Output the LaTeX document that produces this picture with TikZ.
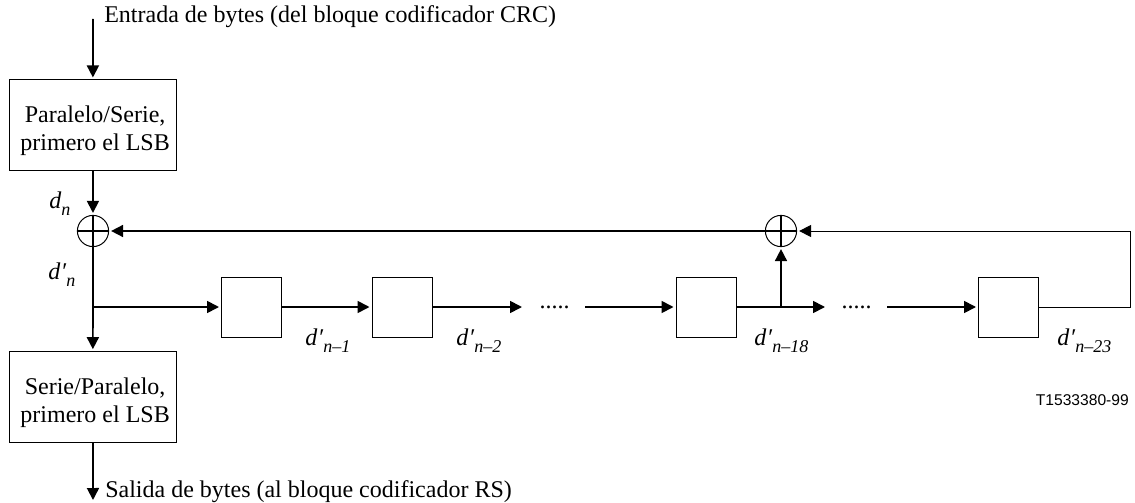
\documentclass[tikz,border=0pt]{standalone}
\usepackage{fontspec}
\setmainfont{Liberation Serif}
\setsansfont{Liberation Sans}
\usetikzlibrary{arrows.meta}
\newcommand{\subtext}[1]{\raisebox{-5.5pt}{\fontsize{13.5}{15}\selectfont\textit{#1}}}
\newcommand{\dname}[1]{\textit{d\kern.5pt′}\subtext{#1}}
\newcommand{\blocktext}[2]{\rule{0pt}{20.5pt}\hspace*{3.5pt}#1\\[1pt]\hspace*{3.5pt}#2}
\tikzset{
  thin line/.style={line width=.75pt},
  thick line/.style={line width=1.3pt},
  flow/.style={thick line,-{Triangle[length=9pt,width=9pt]},shorten >=1.5pt},
  thin flow/.style={thin line,-{Triangle[length=9pt,width=9pt]},shorten >=1.5pt},
  block/.style={draw,thin line,align=center,minimum width=125.5pt,minimum height=68pt,inner sep=0pt,font=\fontsize{18}{20}\selectfont},
  delay/.style={draw,thin line,minimum width=45pt,minimum height=45pt,inner sep=0pt},
  adder/.style={draw,circle,thin line,minimum size=23.4pt,inner sep=0pt,path picture={
    \draw[thick line] (path picture bounding box.north) -- (path picture bounding box.south)
    (path picture bounding box.west) -- (path picture bounding box.east);}},
  txt/.style={inner sep=0pt,anchor=base west,font=\fontsize{18}{20}\selectfont}
}
\begin{document}
\begin{tikzpicture}[x=.75pt,y=-.75pt]
\useasboundingbox (0,0) rectangle (1135,503);
% blocks
\node[block] (ps) at (92.8,125.3) {\blocktext{Paralelo/Serie,}{primero el LSB}};
\node[block] (sp) at (92.8,397) {\blocktext{Serie/Paralelo,}{primero el LSB}};
\node[adder] (sum1) at (93,231) {};
\node[adder] (sum2) at (781,231) {};
\node[delay] (r1) at (251.5,307) {};
\node[delay] (r2) at (402,307) {};
\node[delay] (r3) at (706,307) {};
\node[delay] (r4) at (1008.5,307) {};
% free ends
\coordinate (in) at (93,19);
\coordinate (out) at (93,502);
\coordinate (branch) at (93,307);
\coordinate (tap) at (781,307);
\coordinate (a1) at (524,307);
\coordinate (a2) at (585,307);
\coordinate (a3) at (827,307);
\coordinate (a4) at (887,307);
\coordinate (corner1) at (1130,307);
\coordinate (corner2) at (1130,231);
% texts
\node[txt] at (104,23) {Entrada de bytes (del bloque codificador CRC)};
\node[txt] at (105,497) {Salida de bytes (al bloque codificador RS)};
\node[txt] at (49,208) {\textit{d}\subtext{n}};
\node[txt] at (48,279) {\dname{n}};
\node[txt] at (305,345) {\dname{n–1}};
\node[txt] at (456,345) {\dname{n–2}};
\node[txt] at (754,345) {\dname{n–18}};
\node[txt] at (1057,345) {\dname{n–23}};
\node[inner sep=0pt,anchor=east,font=\sffamily\fontsize{11.7}{14}\selectfont] at (1129,400) {T1533380-99};
\node[txt,anchor=base] at (554.5,308) {.....};
\node[txt,anchor=base] at (856.5,308) {.....};
% connectors
\draw[flow] (in) -- (ps);
\draw[flow] (ps) -- (sum1);
\draw[flow] (sum1) -- (sp);
\draw[flow] (sp) -- (out);
\draw[flow] (branch) -- (r1);
\draw[flow] (r1) -- (r2);
\draw[flow] (r2) -- (a1);
\draw[flow] (a2) -- (r3);
\draw[flow] (r3) -- (a3);
\draw[flow] (a4) -- (r4);
\draw[flow] (tap) -- (sum2);
\draw[flow] (sum2) -- (sum1);
\draw[thin flow] (r4) -- (corner1) -- (corner2) -- (sum2);
\end{tikzpicture}
\end{document}
